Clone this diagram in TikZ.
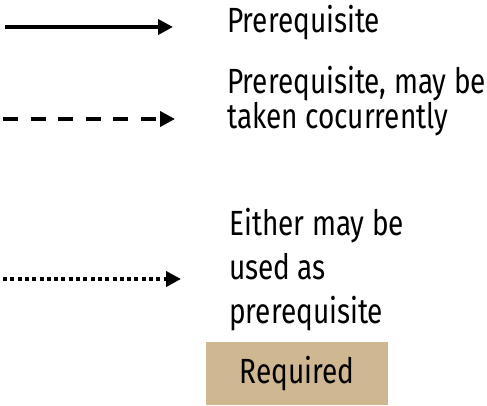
\documentclass[tikz,border=0pt]{standalone}
\usepackage{fontspec}
\setmainfont[FakeStretch=0.8]{Fira Sans}
\usetikzlibrary{arrows.meta}
\definecolor{reqtan}{HTML}{CFB791}

\begin{document}
\begin{tikzpicture}[x=1pt,y=-1pt,
    legend/.style={inner sep=0pt,anchor=base west,align=left},
    legendarrow/.style={line width=4.5pt,-{Triangle[length=15pt,width=15pt]}}]
         \useasboundingbox (0,0) rectangle (487,405);

         % arrow ends
         \coordinate (solidstart) at (5,27);
         \coordinate (solidend) at (173,27);
         \coordinate (dashstart) at (3,119);
         \coordinate (dashend) at (175,119);
         \coordinate (dotstart) at (3,279);
         \coordinate (dotend) at (181,279);

         % texts (base = last line)
         \node[legend,name=solidtxt,font=\fontsize{35}{35}\selectfont] at (227,32) {Prerequisite};
         \node[legend,name=dashtxt,font=\fontsize{35}{35}\selectfont] at (227,128) {Prerequisite, may be\\taken cocurrently};
         \node[legend,name=dottxt,font=\fontsize{35}{44}\selectfont] at (229,323) {Either may be\\used as\\prerequisite};
         \node[fill=reqtan,name=reqbox,minimum width=182pt,minimum height=63pt,inner sep=0pt,
               font=\fontsize{35}{35}\selectfont] at (297,373.5) {Required};

         \path[legendarrow]
            (solidstart) edge (solidend);
         \path[legendarrow,dash pattern=on 15pt off 12.6pt]
            (dashstart) edge (dashend);
         \path[legendarrow,dash pattern=on 4pt off 3.3pt]
            (dotstart) edge (dotend);
      \end{tikzpicture}
\end{document}
